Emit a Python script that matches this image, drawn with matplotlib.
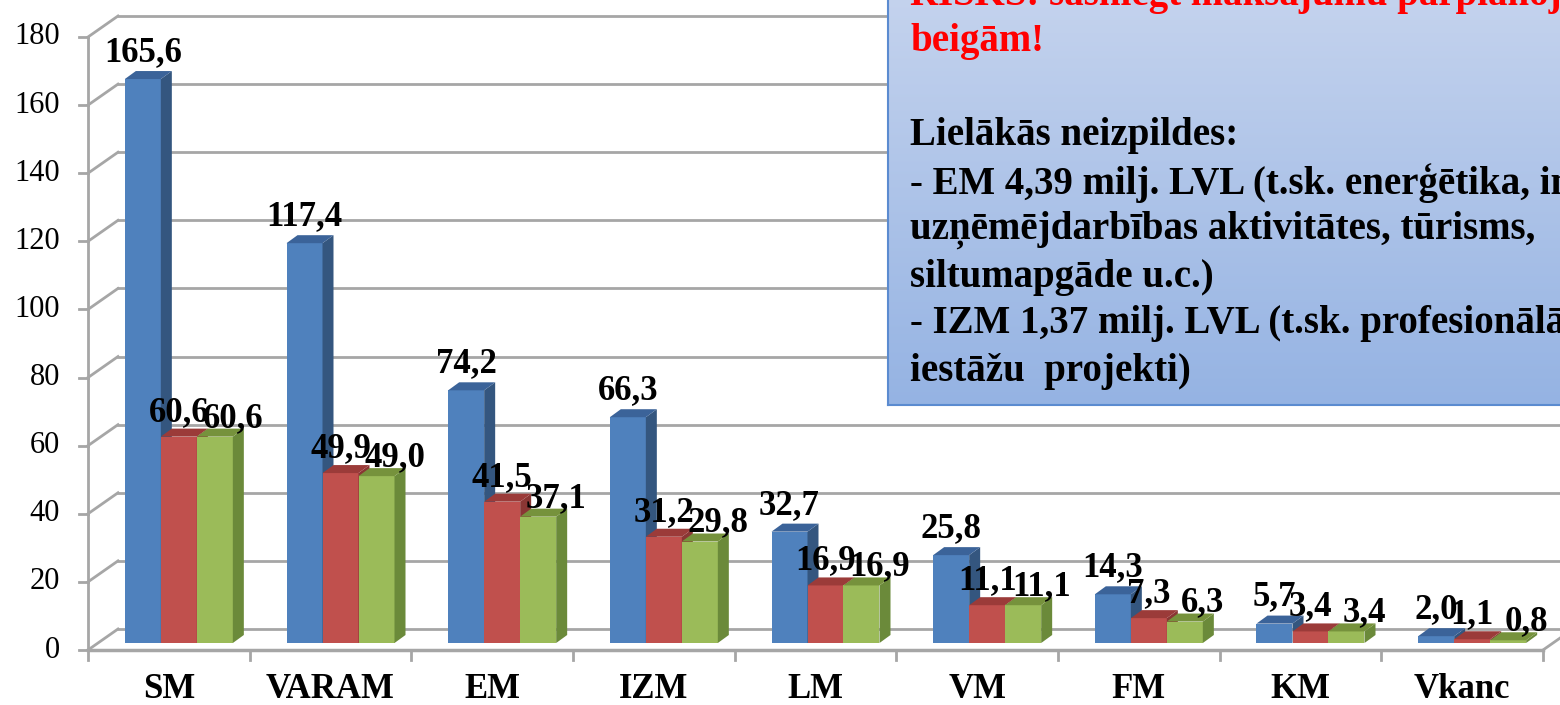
import numpy as np
import matplotlib.pyplot as plt
from matplotlib.patches import Polygon

categories = ['SM', 'VARAM', 'EM', 'IZM', 'LM', 'VM', 'FM', 'KM', 'Vkanc']
series_blue = [165.6, 117.4, 74.2, 66.3, 32.7, 25.8, 14.3, 5.7, 2.0]
series_red = [60.6, 49.9, 41.5, 31.2, 16.9, 11.1, 7.3, 3.4, 1.1]
series_green = [60.6, 49.0, 37.1, 29.8, 16.9, 11.1, 6.3, 3.4, 0.8]
y_ticks = [0, 20, 40, 60, 80, 100, 120, 140, 160, 180]

box_red = ['RISKS: sasniegt maksājumu pārplānojumu līdz gada',
           'beigām!']
box_black = ['Lielākās neizpildes:',
             '- EM 4,39 milj. LVL (t.sk. enerģētika, inovācijas,',
             'uzņēmējdarbības aktivitātes, tūrisms, ',
             'siltumapgāde u.c.)',
             '- IZM 1,37 milj. LVL (t.sk. profesionālās izglītības',
             'iestāžu  projekti)']

FONT = 'Liberation Serif'
W_PX, H_PX = 1560, 705

# front plane of the plot in pixels
LEFT, RIGHT, BOTTOM, TOP = 88, 1543, 650, 37
PX_PER_CAT = (RIGHT - LEFT) / len(categories)
PX_PER_UNIT = (BOTTOM - TOP) / 180.0


def dx(px):
    return px / PX_PER_CAT


def dy(px):
    return px / PX_PER_UNIT


fig = plt.figure(figsize=(W_PX / 100, H_PX / 100), dpi=100)
fig.patch.set_facecolor('white')
ax = fig.add_axes([LEFT / W_PX, 1 - BOTTOM / H_PX,
                   (RIGHT - LEFT) / W_PX, (BOTTOM - TOP) / H_PX])
ax.set_xlim(-0.5, len(categories) - 0.5)
ax.set_ylim(0, 180)
ax.axis('off')

grid_col = '#a6a6a6'
wall_dx, wall_dy = dx(30), dy(21)
x0 = -0.5
x1 = len(categories) - 0.5

# walls / gridlines
for v in y_ticks:
    ax.plot([x0, x0 + wall_dx], [v, v + wall_dy], color=grid_col, lw=2,
            clip_on=False, zorder=0.5)
    ax.plot([x0 + wall_dx, x1 + wall_dx + 0.2], [v + wall_dy, v + wall_dy],
            color=grid_col, lw=2, clip_on=False, zorder=0.5)
    ax.plot([x0 - dx(9), x0], [v, v], color=grid_col, lw=2, clip_on=False)
    ax.text(x0 - dx(28), v, str(v), ha='right', va='center', fontsize=22,
            family=FONT, color='black')

ax.plot([x0, x0], [0, 180], color=grid_col, lw=2, clip_on=False, zorder=0.6)
ax.plot([x0, x1], [0, 0], color=grid_col, lw=2.5, clip_on=False, zorder=0.6)
ax.plot([x1, x1 + wall_dx], [0, wall_dy], color=grid_col, lw=2,
        clip_on=False, zorder=0.6)
for i in range(len(categories) + 1):
    ax.plot([x0 + i, x0 + i], [0, -dy(10)], color=grid_col, lw=2,
            clip_on=False)

for i, c in enumerate(categories):
    ax.text(i, -dy(40), c, ha='center', va='center', fontsize=25,
            weight='bold', family=FONT)

# 3d-looking bars
bw = dx(36)
base_dx, base_dy = dx(10), dy(7)
depth_dx, depth_dy = dx(11), dy(8)
colours = [('#4f81bd', '#34567f', '#3b6399'),
           ('#c0504d', '#8a3634', '#9b3b39'),
           ('#9bbb59', '#6b8a3a', '#76923c')]
label_off = [(0, 18), (0, 16), (18, 10)]
series = [series_blue, series_red, series_green]

for i in range(len(categories)):
    for j, vals in enumerate(series):
        v = vals[i]
        xc = i + (j - 1) * bw + base_dx
        xl, xr = xc - bw / 2, xc + bw / 2
        front, side, top = colours[j]
        ax.bar(xc, v, width=bw, bottom=base_dy, color=front, zorder=2,
               clip_on=False)
        ax.add_patch(Polygon([(xr, base_dy), (xr + depth_dx, base_dy + depth_dy),
                              (xr + depth_dx, base_dy + v + depth_dy),
                              (xr, base_dy + v)],
                             closed=True, facecolor=side, edgecolor='none',
                             zorder=2, clip_on=False))
        ax.add_patch(Polygon([(xl, base_dy + v), (xr, base_dy + v),
                              (xr + depth_dx, base_dy + v + depth_dy),
                              (xl + depth_dx, base_dy + v + depth_dy)],
                             closed=True, facecolor=top, edgecolor='none',
                             zorder=2, clip_on=False))

for i in range(len(categories)):
    for j, vals in enumerate(series):
        v = vals[i]
        xc = i + (j - 1) * bw + base_dx
        ox, oy = label_off[j]
        ax.text(xc + dx(ox), base_dy + v + dy(oy),
                f'{v:.1f}'.replace('.', ','), ha='center', va='baseline',
                fontsize=25, weight='bold', family=FONT, zorder=5,
                clip_on=False)

# text box
bx = fig.add_axes([888 / W_PX, 1 - 405 / H_PX, 0.5, 0.6])
grad = np.linspace(0, 1, 256).reshape(-1, 1)
top_c = np.array([0.776, 0.831, 0.933])
bot_c = np.array([0.584, 0.702, 0.890])
img = top_c + (bot_c - top_c) * grad
bx.imshow(img[:, None, :].repeat(2, axis=1), aspect='auto',
          extent=[0, 1, 0, 1], origin='upper')
bx.set_xticks([])
bx.set_yticks([])
for s in bx.spines.values():
    s.set_color('#5b8bd0')
    s.set_linewidth(1.5)

line_h = 47
for k, line in enumerate(box_red + [''] + box_black):
    yc = -5 + k * line_h
    col = 'red' if k < len(box_red) else 'black'
    fig.text(910 / W_PX, 1 - yc / H_PX, line, ha='left', va='center',
             fontsize=28, weight='bold', family=FONT, color=col)

fig.savefig('out.png', dpi=100)
